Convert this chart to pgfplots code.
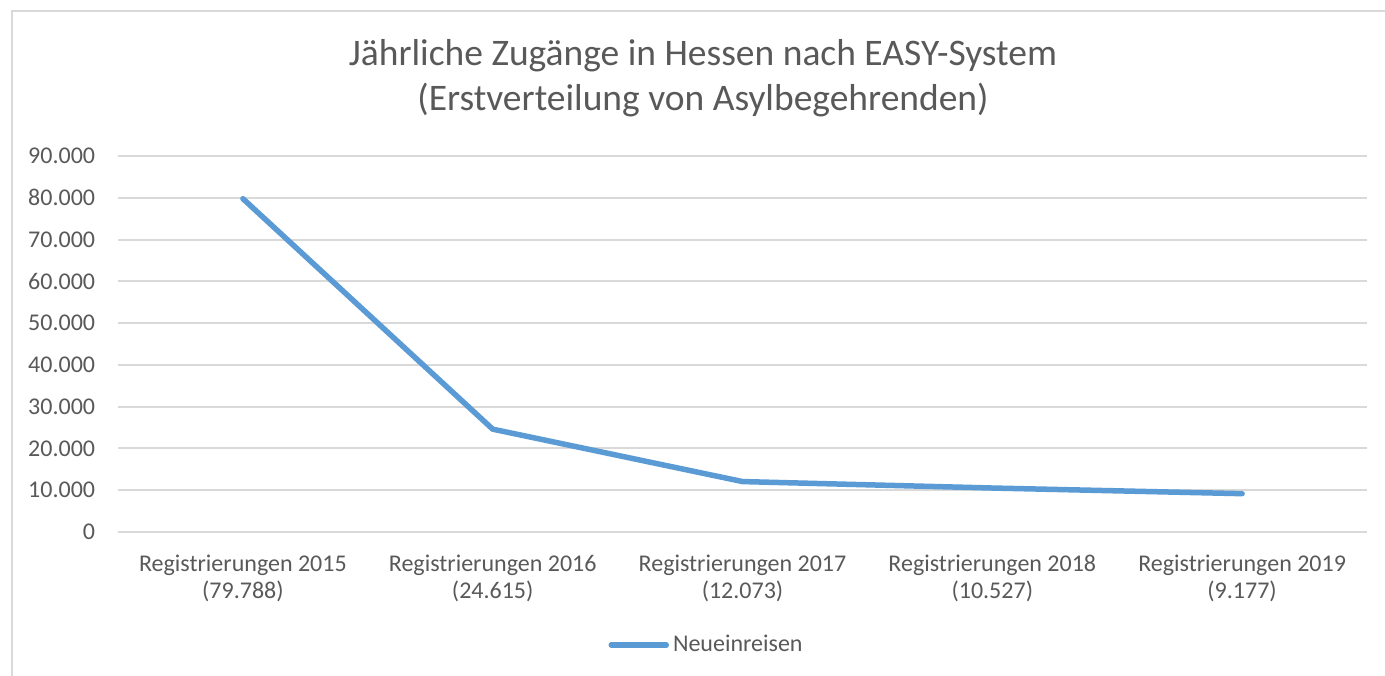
\documentclass[border=0pt]{standalone}
\usepackage{pgfplots}
\pgfplotsset{compat=1.18}
\usepackage{fontspec}
\setmainfont{Carlito}
\definecolor{txt}{HTML}{595959}
\definecolor{gridc}{HTML}{D9D9D9}
\definecolor{ser}{HTML}{5B9BD5}
\begin{document}
\begin{tikzpicture}
\path[use as bounding box] (0pt,0pt) rectangle (692.5pt,337.5pt);
\fill[white] (0pt,0pt) rectangle (692.5pt,337.5pt);
\draw[gridc, line width=1pt] (5.9pt,-2pt) -- (5.9pt,331.9pt) -- (700pt,331.9pt);
\node[anchor=base, text=txt, font=\fontsize{18.75}{22}\selectfont] at (351.5pt,304.5pt) {Jährliche Zugänge in Hessen nach EASY-System};
\node[anchor=base, text=txt, font=\fontsize{18.75}{22}\selectfont] at (351.5pt,282pt) {(Erstverteilung von Asylbegehrenden)};
\begin{axis}[
  at={(59pt,71.5pt)}, anchor=origin,
  scale only axis, width=624.5pt, height=188pt,
  xmin=0, xmax=5, ymin=0, ymax=90000,
  ytick={0,10000,...,90000},
  xtick={0.5,1.5,2.5,3.5,4.5},
  xticklabels={Registrierungen 2015\\(79.788),Registrierungen 2016\\(24.615),Registrierungen 2017\\(12.073),Registrierungen 2018\\(10.527),Registrierungen 2019\\(9.177)},
  scaled y ticks=false,
  /pgf/number format/assume math mode=true,
  /pgf/number format/1000 sep={.},
  axis line style={draw=none},
  major tick length=0pt,
  ymajorgrids, grid style={gridc, line width=1pt},
  tick label style={text=txt, font=\fontsize{12}{13.5}\selectfont},
  yticklabel style={anchor=east, inner sep=0pt, xshift=-11.25pt},
  xticklabel style={anchor=north, align=center, inner sep=0pt, yshift=-11.5pt},
  legend style={at={(0.472,-0.3005)}, anchor=center, draw=none, fill=none, font=\fontsize{12}{13.5}\selectfont, text=txt, inner sep=0pt, legend cell align=left},
  legend image code/.code={\draw[#1, line cap=round] (0pt,0pt) -- (27.5pt,0pt);},
]
\addplot[ser, line width=2.75pt, line cap=round, line join=round] coordinates {(0.5,79788) (1.5,24615) (2.5,12073) (3.5,10527) (4.5,9177)};
\addlegendentry{Neueinreisen}
\end{axis}
\end{tikzpicture}
\end{document}
